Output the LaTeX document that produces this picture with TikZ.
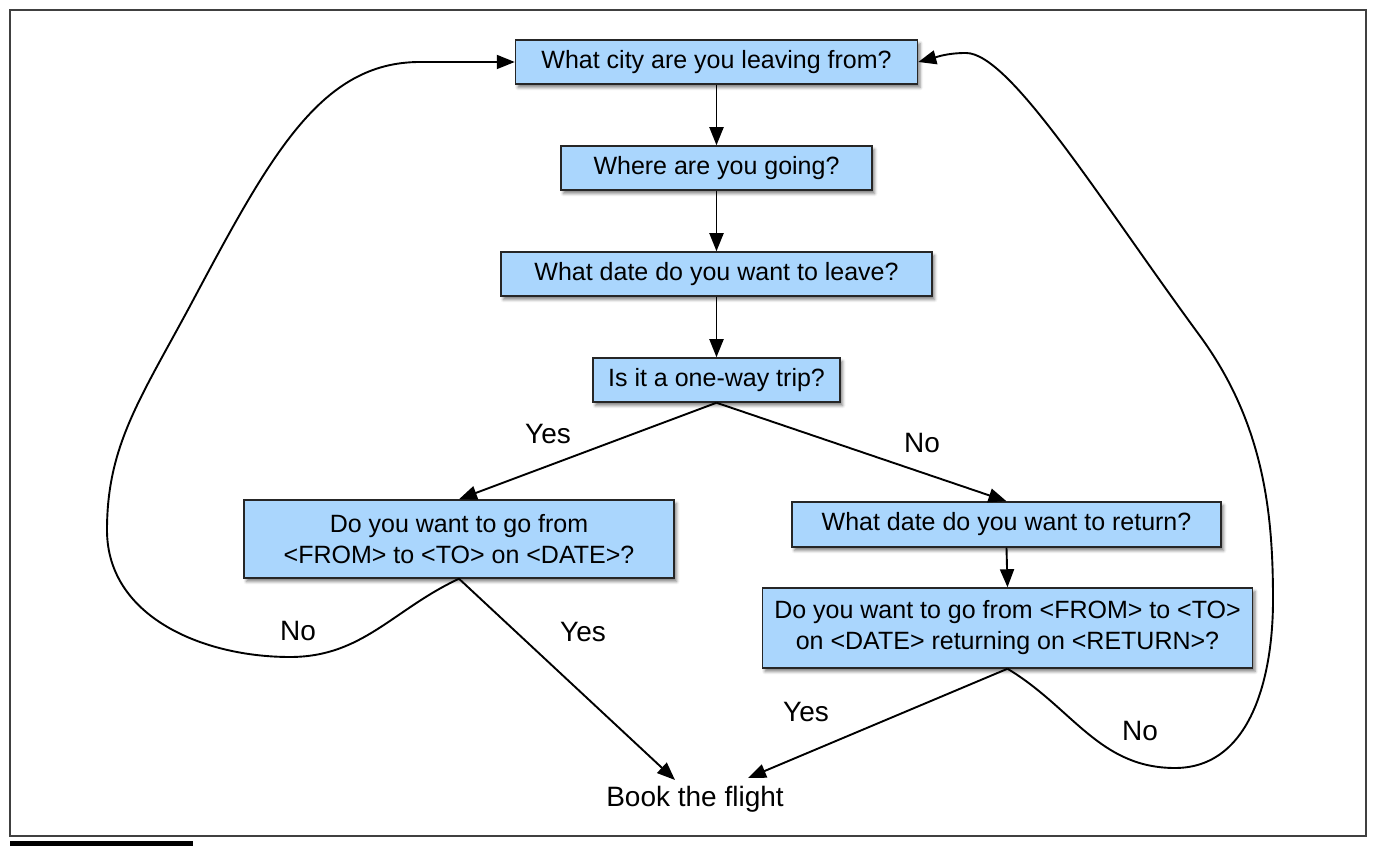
\documentclass[tikz,border=0pt]{standalone}
\usepackage{fontspec}
\setmainfont{Liberation Sans}
\usetikzlibrary{arrows.meta,shadows.blur}
\definecolor{boxblue}{RGB}{170,214,253}
\newcommand\diagfont{\fontsize{25}{31}\selectfont}
\newcommand\labfont{\fontsize{28}{32}\selectfont}
\begin{document}
\begin{tikzpicture}[x=1pt,y=1pt,
  box/.style={draw=black!85, line width=1.5pt, fill=boxblue, inner sep=0pt, align=center, font=\diagfont,
    blur shadow={shadow xshift=2.5pt, shadow yshift=-3.5pt, shadow blur radius=3pt, shadow opacity=50}},
  conn/.style={line width=1.9pt, -{Triangle[length=18pt,width=14pt]}},
  lbl/.style={font=\labfont, inner sep=0pt}]
\useasboundingbox (0,0) rectangle (1374,846);
\draw[line width=1.6pt, black!75] (10,10) rectangle (1366,836);
\fill[black] (10,0) rectangle (193,5);

\node[box, minimum width=402pt, minimum height=44pt] (b1) at (716.5,784) {What city are you leaving from?};
\node[box, minimum width=311pt, minimum height=44pt] (b2) at (716.5,678) {Where are you going?};
\node[box, minimum width=431pt, minimum height=44pt] (b3) at (716.5,572) {What date do you want to leave?};
\node[box, minimum width=247pt, minimum height=44pt] (b4) at (716.5,466) {Is it a one-way trip?};
\node[box, minimum width=430pt, minimum height=78pt] (b5) at (459,307) {Do you want to go from\\<FROM> to <TO> on <DATE>?};
\node[box, minimum width=429pt, minimum height=45pt] (b6) at (1006.5,321.5) {What date do you want to return?};
\node[box, minimum width=490pt, minimum height=80pt] (b7) at (1007.5,218) {Do you want to go from <FROM> to <TO>\\on <DATE> returning on <RETURN>?};
\node[lbl] (book) at (695,47) {Book the flight};

\node[lbl] (yes1) at (548,412) {Yes};
\node[lbl] (no1) at (922,403) {No};
\node[lbl] (no2) at (298,215) {No};
\node[lbl] (yes2) at (583,214) {Yes};
\node[lbl] (yes3) at (806,134) {Yes};
\node[lbl] (no3) at (1140,115) {No};

\coordinate (bkL) at (675,66);
\coordinate (bkR) at (748,68);
\coordinate (lA) at (290,189);
\coordinate (lB) at (107,316);
\coordinate (lM) at (190,540);
\coordinate (lC) at (420,784);
\coordinate (rA) at (1175,78);
\coordinate (rB) at (1273,246);
\coordinate (rM) at (1200,510);
\coordinate (rC) at (966,793);

\draw[conn] (b1.south) -- (b2.north);
\draw[conn] (b2.south) -- (b3.north);
\draw[conn] (b3.south) -- (b4.north);
\draw[conn] (b4.south) -- (b5.north);
\draw[conn] (b4.south) -- (b6.north);
\draw[conn] (b6.south) -- (b7.north);
\draw[conn] (b5.south) -- (bkL);
\draw[conn] (b7.south) -- (bkR);

\draw[conn] (b5.south) to[out=205,in=0] (lA) to[out=180,in=-90] (lB)
  .. controls (107,400) and (140,447) .. (lM)
  .. controls (270,690) and (320,784) .. (lC) -- (b1.west);
\draw[conn] (b7.south) to[out=-31,in=180] (rA) to[out=0,in=-90] (rB)
  .. controls (1273,330) and (1265,421) .. (rM)
  .. controls (1100,646) and (1010,793) .. (rC) to[out=180,in=15] (b1.east);
\end{tikzpicture}
\end{document}
